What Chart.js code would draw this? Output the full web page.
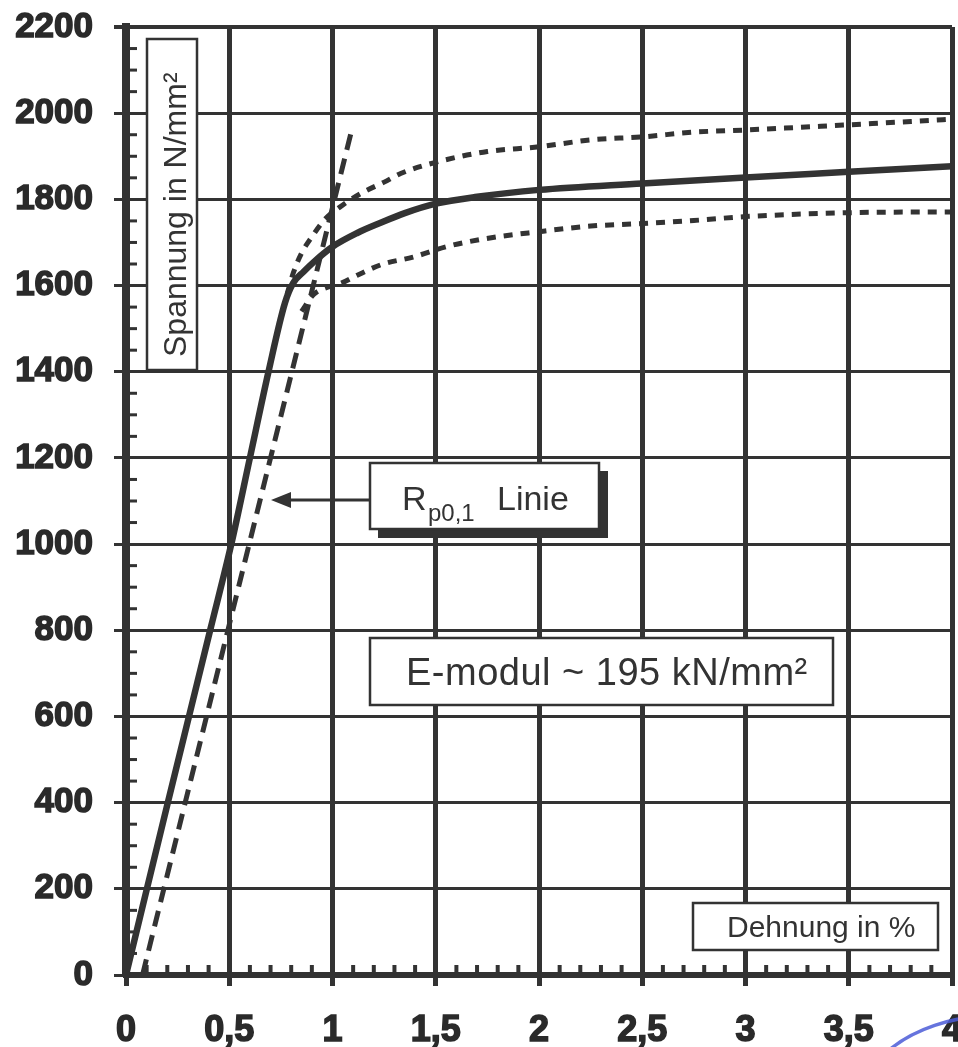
<!DOCTYPE html>
<html><head><meta charset="utf-8">
<script src="https://cdn.jsdelivr.net/npm/chart.js@4.4.0/dist/chart.umd.min.js"></script>
<style>html,body{margin:0;padding:0;background:#fff;overflow:hidden}
#wrap{width:958px;height:1047px;position:relative}</style></head>
<body><div id="wrap"><canvas id="c" width="958" height="1047"></canvas></div>
<script>
// ---- data ----
const xTickValues = [0, 0.5, 1, 1.5, 2, 2.5, 3, 3.5, 4];
const xTickLabels = ['0', '0,5', '1', '1,5', '2', '2,5', '3', '3,5', '4'];
const yTickValues = [0, 200, 400, 600, 800, 1000, 1200, 1400, 1600, 1800, 2000, 2200];
const yTickLabels = ['0', '200', '400', '600', '800', '1000', '1200', '1400', '1600', '1800', '2000', '2200'];

const strainMean = [0, 0.205, 0.41, 0.51, 0.60, 0.69, 0.77, 0.81, 0.86, 0.91, 1.0, 1.12, 1.23, 1.35, 1.5, 1.7, 2.0, 2.5, 3.0, 3.5, 4.0];
const stressMean = [0, 405, 805, 1000, 1200, 1400, 1560, 1606, 1632, 1655, 1690, 1722, 1745, 1768, 1790, 1806, 1822, 1837, 1851, 1864, 1877];

const strainRp = [0.08, 1.09];
const stressRp = [0, 1955];

const strainUpper = [0.78, 0.81, 0.85, 0.9, 0.96, 1.05, 1.15, 1.25, 1.33, 1.5, 1.75, 2.0, 2.25, 2.5, 2.75, 3.0, 3.5, 4.0];
const stressUpper = [1580, 1629, 1675, 1713, 1752, 1787, 1817, 1840, 1860, 1886, 1911, 1922, 1938, 1945, 1956, 1961, 1973, 1986];

const strainLower = [0.85, 0.91, 0.97, 1.04, 1.12, 1.245, 1.39, 1.55, 1.73, 2.0, 2.25, 2.5, 2.75, 3.0, 3.5, 4.0];
const stressLower = [1540, 1580, 1595, 1605, 1624, 1650, 1666, 1690, 1708, 1725, 1738, 1744, 1751, 1760, 1769, 1771];

const yTitle = 'Spannung in N/mm²';
const xTitle = 'Dehnung in %';
const rpMain = 'R';
const rpSub = 'p0,1';
const rpText = 'Linie';
const eModText = 'E-modul ~ 195 kN/mm²';

// ---- styling ----
const INK = '#333333';
const FONT = '"Liberation Sans", Arial, sans-serif';

const toPts = (xs, ys) => xs.map((x, i) => ({ x: x, y: ys[i] }));

const decor = {
  id: 'decor',
  beforeDatasetsDraw(chart) {
    const ctx = chart.ctx, xs = chart.scales.x, ys = chart.scales.y;
    const a = chart.chartArea;
    ctx.save();
    ctx.fillStyle = INK;
    for (let v = 50; v < 2200; v += 50) {
      if (v % 200 === 0) continue;
      const y = ys.getPixelForValue(v);
      ctx.fillRect(a.left + 3, y - 1.5, 8, 3);
    }
    for (let k = 1; k < 40; k++) {
      if (k % 5 === 0) continue;
      const x = xs.getPixelForValue(k / 10);
      ctx.fillRect(x - 2, a.bottom - 10, 4, 8);
    }
    ctx.restore();
  },
  afterDatasetsDraw(chart) {
    const ctx = chart.ctx;
    ctx.save();
    ctx.lineJoin = 'miter';
    // y axis title box
    ctx.fillStyle = '#fff';
    ctx.strokeStyle = INK;
    ctx.lineWidth = 2.5;
    ctx.fillRect(147, 39, 50, 331);
    ctx.strokeRect(147, 39, 50, 331);
    ctx.save();
    ctx.translate(186, 357);
    ctx.rotate(-Math.PI / 2);
    ctx.fillStyle = INK;
    ctx.font = '32px ' + FONT;
    ctx.textBaseline = 'alphabetic';
    ctx.textAlign = 'left';
    ctx.fillText(yTitle, 0, 0);
    ctx.restore();

    // Rp0,1 box with shadow
    ctx.fillStyle = INK;
    ctx.fillRect(378, 471, 230, 67);
    ctx.fillStyle = '#fff';
    ctx.fillRect(370, 463, 229, 66);
    ctx.strokeRect(370, 463, 229, 66);
    ctx.fillStyle = INK;
    ctx.textAlign = 'left';
    ctx.textBaseline = 'alphabetic';
    ctx.font = '34px ' + FONT;
    ctx.fillText(rpMain, 402, 510);
    ctx.font = '24px ' + FONT;
    ctx.fillText(rpSub, 428, 521);
    ctx.font = '34px ' + FONT;
    ctx.fillText(rpText, 497, 510);

    // arrow
    ctx.lineWidth = 3;
    ctx.beginPath();
    ctx.moveTo(370, 500);
    ctx.lineTo(288, 500);
    ctx.stroke();
    ctx.beginPath();
    ctx.moveTo(271, 500);
    ctx.lineTo(291, 492);
    ctx.lineTo(291, 508);
    ctx.closePath();
    ctx.fill();

    // E-modul box
    ctx.lineWidth = 2.5;
    ctx.fillStyle = '#fff';
    ctx.fillRect(370, 638, 463, 67);
    ctx.strokeRect(370, 638, 463, 67);
    ctx.fillStyle = INK;
    ctx.font = '38px ' + FONT;
    ctx.letterSpacing = '0.5px';
    ctx.fillText(eModText, 406, 685);
    ctx.letterSpacing = '0px';

    // Dehnung box
    ctx.fillStyle = '#fff';
    ctx.fillRect(693, 903, 245, 47);
    ctx.strokeRect(693, 903, 245, 47);
    ctx.fillStyle = INK;
    ctx.font = '30px ' + FONT;
    ctx.fillText(xTitle, 727, 937);
    ctx.restore();
  },
  afterDraw(chart) {
    const ctx = chart.ctx;
    ctx.save();
    ctx.strokeStyle = 'rgba(75,92,215,0.85)';
    ctx.lineWidth = 3.5;
    ctx.beginPath();
    ctx.ellipse(1000, 1105, 140, 90, 0, Math.PI + 0.6, Math.PI * 1.5);
    ctx.stroke();
    ctx.restore();
  }
};

new Chart(document.getElementById('c'), {
  type: 'line',
  data: {
    datasets: [
      { data: toPts(strainMean, stressMean), borderColor: INK, borderWidth: 6.5, pointRadius: 0, cubicInterpolationMode: 'monotone', fill: false },
      { data: toPts(strainRp, stressRp), borderColor: INK, borderWidth: 5, borderDash: [16, 9], pointRadius: 0, fill: false },
      { data: toPts(strainUpper, stressUpper), borderColor: INK, borderWidth: 5, borderDash: [9, 8], pointRadius: 0, cubicInterpolationMode: 'monotone', fill: false },
      { data: toPts(strainLower, stressLower), borderColor: INK, borderWidth: 5, borderDash: [9, 8], pointRadius: 0, cubicInterpolationMode: 'monotone', fill: false }
    ]
  },
  options: {
    responsive: false,
    animation: false,
    devicePixelRatio: 1,
    layout: { padding: { top: 27, right: 6, bottom: 0, left: 0 } },
    plugins: { legend: { display: false }, tooltip: { enabled: false } },
    scales: {
      x: {
        type: 'linear', min: 0, max: 4,
        afterBuildTicks: s => { s.ticks = xTickValues.map(v => ({ value: v })); },
        afterFit: s => { s.height = 72; s.paddingLeft = 0; s.paddingRight = 0; },
        ticks: {
          autoSkip: false, maxRotation: 0, padding: 23, color: '#2a2a2a',
          textStrokeColor: '#2a2a2a', textStrokeWidth: 1.5,
          font: { family: FONT, size: 36, weight: 'bold' },
          callback: (v) => xTickLabels[xTickValues.indexOf(v)]
        },
        grid: { color: INK, lineWidth: 5, tickLength: 11, drawTicks: true },
        border: { color: INK, width: 6 }
      },
      y: {
        min: 0, max: 2200,
        afterBuildTicks: s => { s.ticks = yTickValues.map(v => ({ value: v })); },
        afterFit: s => { s.width = 126; s.paddingTop = 0; s.paddingBottom = 0; },
        ticks: {
          padding: 21, color: '#2a2a2a',
          textStrokeColor: '#2a2a2a', textStrokeWidth: 1.5,
          font: { family: FONT, size: 35, weight: 'bold' },
          callback: (v) => yTickLabels[yTickValues.indexOf(v)]
        },
        grid: { color: INK, lineWidth: c => (c.tick && c.tick.value === 2200 ? 4 : 3), tickLength: 12, drawTicks: true },
        border: { color: INK, width: 8 }
      }
    }
  },
  plugins: [decor]
});
</script>
</body></html>
